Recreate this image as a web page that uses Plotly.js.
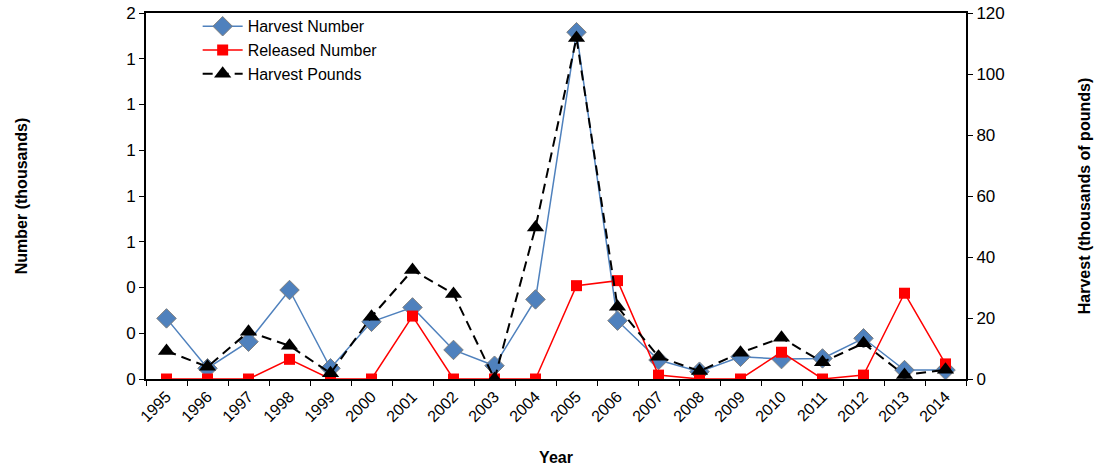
<!DOCTYPE html>
<html>
<head>
<meta charset="utf-8">
<script src="https://cdn.plot.ly/plotly-3.0.1.min.js"></script>
<style>html,body{margin:0;padding:0;background:#fff;}#chart{width:1099px;height:472px;}</style>
</head>
<body>
<div id="chart"></div>
<script>
const years = ['1995','1996','1997','1998','1999','2000','2001','2002','2003','2004','2005','2006','2007','2008','2009','2010','2011','2012','2013','2014'];
const harvestNumber = [0.265,0.047,0.163,0.389,0.047,0.25,0.313,0.127,0.058,0.348,1.516,0.255,0.083,0.032,0.097,0.087,0.09,0.178,0.039,0.039];
const releasedNumber = [0,0,0,0.086,0,0,0.275,0,0,0,0.408,0.43,0.017,0,0,0.117,0,0.017,0.375,0.066];
const harvestPounds = [9.2,4.0,15.5,10.9,1.9,20.4,35.7,27.9,0,49.7,111.8,23.7,7.3,2.6,8.6,13.5,5.5,11.7,1.3,3.0];
const leftTickVals = [0,0.2,0.4,0.6,0.8,1.0,1.2,1.4,1.6];
const leftTickText = ['0','0','0','1','1','1','1','1','2'];
const rightTickVals = [0,20,40,60,80,100,120];

const font = 'Liberation Sans, Arial, sans-serif';
const traces = [
  {x: years, y: harvestNumber, name: 'Harvest Number', type: 'scatter', mode: 'lines+markers',
   line: {color: '#4F81BD', width: 1.5},
   marker: {symbol: 'diamond', size: 15, color: '#4F81BD', line: {color: '#7F7F7F', width: 1}}},
  {x: years, y: releasedNumber, name: 'Released Number', type: 'scatter', mode: 'lines+markers',
   line: {color: '#FF0000', width: 1.5},
   marker: {symbol: 'square', size: 11, color: '#FF0000'}},
  {x: years, y: harvestPounds, name: 'Harvest Pounds', type: 'scatter', mode: 'lines+markers', yaxis: 'y2',
   line: {color: '#000000', width: 2, dash: '10px,6px'},
   marker: {symbol: 'triangle-up', size: 15, color: '#000000'}}
];
const layout = {
  width: 1099, height: 472,
  margin: {l: 146, r: 133, t: 13, b: 93, autoexpand: false},
  paper_bgcolor: '#fff', plot_bgcolor: '#fff',
  font: {family: font, size: 16, color: '#000'},
  showlegend: true,
  legend: {x: 0.063, y: 1.01, xanchor: 'left', yanchor: 'top', bgcolor: 'rgba(0,0,0,0)',
           font: {family: font, size: 16, color: '#000'}, tracegroupgap: 0, itemwidth: 40},
  xaxis: {type: 'category', tickangle: -45, showgrid: false, zeroline: false,
          showline: true, linecolor: '#000', linewidth: 2, mirror: true,
          ticks: 'outside', tickson: 'boundaries', ticklen: 5, tickcolor: '#000',
          tickfont: {family: font, size: 16, color: '#000'},
          title: {text: '<b>Year</b>', font: {family: font, size: 16}, standoff: 28},
          automargin: false, range: [-0.5, 19.5]},
  yaxis: {range: [0, 1.6], tickvals: leftTickVals, ticktext: leftTickText, showgrid: false, zeroline: false,
          showline: true, linecolor: '#000', linewidth: 2, ticks: 'outside', ticklen: 5, tickcolor: '#000',
          tickfont: {family: font, size: 17, color: '#000'},
          title: {text: '<b>Number (thousands)</b>', font: {family: font, size: 16}, standoff: 95},
          automargin: false},
  yaxis2: {range: [0, 120], tickvals: rightTickVals, overlaying: 'y', side: 'right', showgrid: false, zeroline: false,
           showline: true, linecolor: '#000', linewidth: 2, ticks: 'outside', ticklen: 5, tickcolor: '#000',
           tickfont: {family: font, size: 17, color: '#000'},
           title: {text: '<b>Harvest (thousands of pounds)</b>', font: {family: font, size: 16}, standoff: 75},
           automargin: false}
};
Plotly.newPlot('chart', traces, layout, {displayModeBar: false, staticPlot: true});
</script>
</body>
</html>
